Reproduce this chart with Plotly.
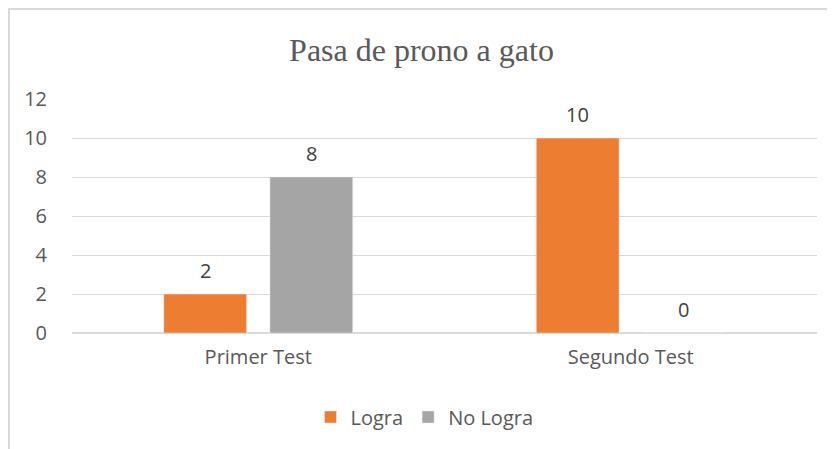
import plotly.graph_objects as go

# Chart data
categories = ['Primer Test', 'Segundo Test']
logra = [2, 10]
no_logra = [8, 0]
series = [('Logra', logra, '#ED7D31'), ('No Logra', no_logra, '#A5A5A5')]

# layout geometry (pixels); page body has an 8px margin, so figure is 8px smaller
W, H = 827, 441
ML, MR, MT, MB = 64, 18, 91, 116
plot_w = W - ML - MR
plot_h = H - MT - MB
bargap = 0.43
slot = plot_w / len(categories) * (1 - bargap) / len(series)

fig = go.Figure()
annotations = []
for i, (name, vals, color) in enumerate(series):
    fig.add_trace(go.Bar(
        name=name,
        x=categories,
        y=vals,
        marker_color=color,
    ))
    # data labels above bars
    shift = (i - (len(series) - 1) / 2) * slot
    for cat, v in zip(categories, vals):
        annotations.append(dict(
            x=cat, y=v, xref='x', yref='y',
            text=str(v), showarrow=False,
            xshift=shift, yshift=24,
            font=dict(size=20, color='#404040')
        ))

fig.update_layout(
    title=dict(
        text='Pasa de prono a gato',
        x=0.5, xanchor='center',
        y=(H - 42) / H, yref='container', yanchor='middle',
        font=dict(family='Liberation Serif, Times New Roman, serif', size=32, color='#595959')
    ),
    barmode='group',
    bargap=bargap,
    bargroupgap=0.22,
    width=W,
    height=H,
    margin=dict(l=ML, r=MR, t=MT, b=MB),
    paper_bgcolor='white',
    plot_bgcolor='white',
    font=dict(family='Open Sans, Lato, sans-serif', size=20, color='#595959'),
    yaxis=dict(
        range=[0, 12],
        dtick=2,
        showgrid=True,
        gridcolor='#D9D9D9',
        gridwidth=1,
        zeroline=True,
        zerolinecolor='#D9D9D9',
        showline=False,
        automargin=False,
        ticklabelstandoff=24,
        tickfont=dict(size=20, color='#595959')
    ),
    xaxis=dict(
        showline=False,
        automargin=False,
        ticklabelstandoff=10,
        tickfont=dict(size=20, color='#595959')
    ),
    showlegend=True,
    legend=dict(
        orientation='h',
        x=0.5 - 20 / plot_w, xanchor='center',
        y=(MT + plot_h - 409) / plot_h, yanchor='middle',
        font=dict(size=20, color='#595959'),
        itemwidth=30
    ),
    annotations=annotations,
    shapes=[dict(
        type='rect', xref='paper', yref='paper',
        x0=(1 - ML) / plot_w, x1=1.2,
        y0=-0.8, y1=(MT + plot_h - 1) / plot_h,
        line=dict(color='#D9D9D9', width=2),
        fillcolor='rgba(0,0,0,0)',
        layer='below'
    )]
)

fig.write_html("out.html")
